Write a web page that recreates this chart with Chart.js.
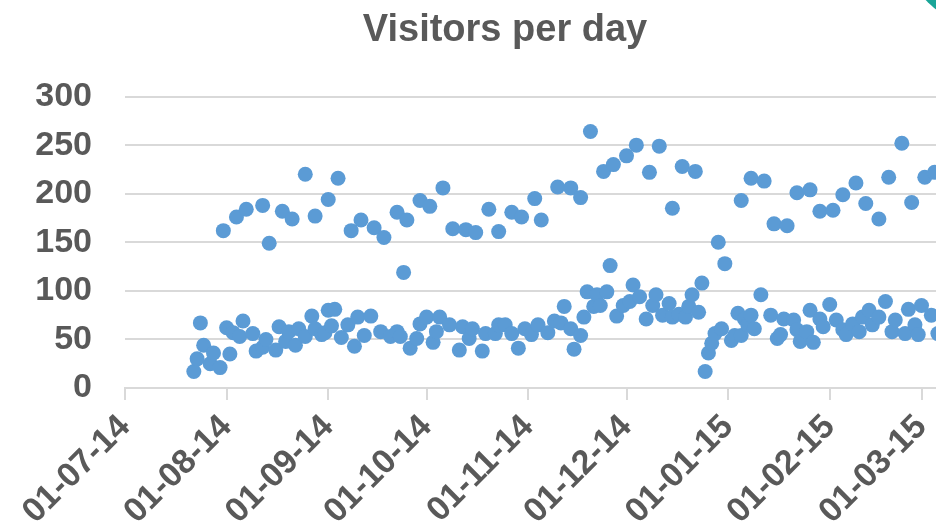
<!DOCTYPE html>
<html>
<head>
<meta charset="utf-8">
<script src="https://cdn.jsdelivr.net/npm/chart.js@4.4.1/dist/chart.umd.min.js"></script>
<style>
    html, body { margin: 0; padding: 0; background: #ffffff; overflow: hidden; width: 936px; height: 532px; }
    #wrap { position: relative; width: 1020px; height: 532px; }
    #corner-shape { position: absolute; left: 902px; top: -148px; width: 176px; height: 176px; border-radius: 50%; background: #19a598; }
</style>
</head>
<body>
<div id="wrap">
    <canvas id="visitors-chart" width="1020" height="532"></canvas>
</div>
<div id="corner-shape"></div>
<script>
// data: day offsets counted from 01-07-14, visitors
var dayOffsets = [
    21, 22, 23, 24, 26, 27, 29, 30, 31, 32, 33, 34, 35, 36, 37, 39, 40, 42, 42, 43,
    44, 46, 47, 48, 49, 50, 51, 52, 53, 55, 55, 57, 58, 58, 60, 61, 62, 62, 63, 64,
    65, 66, 68, 69, 70, 71, 72, 73, 75, 76, 78, 79, 81, 83, 83, 84, 85, 86, 87, 89,
    90, 90, 92, 93, 94, 95, 96, 97, 99, 100, 102, 103, 104, 105, 106, 107, 109, 110, 111, 113,
    114, 114, 116, 118, 118, 120, 121, 122, 124, 125, 126, 127, 129, 131, 132, 133, 134, 136, 136, 137,
    139, 139, 140, 141, 142, 143, 144, 145, 146, 147, 148, 149, 150, 152, 153, 154, 155, 156, 157, 159,
    160, 161, 162, 163, 164, 166, 167, 167, 169, 170, 171, 172, 173, 174, 175, 176, 177, 178, 179, 180,
    181, 182, 183, 185, 186, 187, 188, 188, 189, 190, 191, 191, 192, 194, 195, 197, 198, 199, 200, 201,
    202, 204, 205, 205, 206, 208, 209, 209, 210, 212, 212, 213, 215, 216, 217, 219, 219, 220, 222, 223,
    224, 225, 226, 227, 228, 230, 230, 232, 233, 234, 235, 237, 238, 239, 240, 241, 242, 243, 244, 246,
    247, 248
];
var visitors = [
    17, 30, 67, 44, 25, 36, 21, 162, 62, 35, 57, 176, 53, 69, 184, 56, 38, 42, 188, 50,
    149, 39, 63, 182, 48, 58, 174, 44, 61, 53, 220, 74, 61, 177, 55, 57, 80, 194, 64, 81,
    216, 52, 65, 162, 43, 73, 173, 54, 74, 165, 58, 155, 53, 58, 181, 53, 119, 173, 41, 51,
    66, 193, 73, 187, 47, 58, 73, 206, 65, 164, 39, 63, 163, 51, 61, 160, 38, 56, 184, 56,
    65, 161, 65, 56, 181, 41, 176, 61, 55, 195, 65, 173, 57, 69, 207, 67, 84, 61, 206, 40,
    54, 196, 73, 99, 264, 84, 96, 85, 223, 99, 126, 230, 74, 85, 239, 89, 106, 250, 94, 71,
    222, 85, 96, 249, 75, 87, 73, 185, 76, 228, 73, 84, 96, 223, 78, 108, 17, 36, 46, 56,
    150, 61, 128, 49, 54, 77, 54, 193, 71, 65, 75, 216, 61, 96, 213, 75, 169, 51, 55, 71,
    167, 70, 60, 201, 48, 58, 80, 204, 47, 71, 182, 63, 86, 183, 70, 60, 199, 55, 66, 211,
    58, 73, 190, 80, 65, 73, 174, 89, 217, 58, 70, 252, 56, 81, 191, 65, 55, 85, 217, 75,
    222, 56
];

// month ticks on the date axis
var tickDays = [0, 31, 62, 92, 123, 153, 184, 215, 243];
var tickLabels = ['01-07-14', '01-08-14', '01-09-14', '01-10-14', '01-11-14', '01-12-14', '01-01-15', '01-02-15', '01-03-15'];
var yTicks = [0, 50, 100, 150, 200, 250, 300];

var textColor = '#595959';
var lineColor = '#d9d9d9';
var fontName = "'Liberation Sans', Arial, sans-serif";

function BuildPoints() {
    var pts = [];
    for (var i = 0; i < dayOffsets.length; i++) {
        pts.push({ x: dayOffsets[i], y: visitors[i] });
    }
    return pts;
}

function BuildVisitorsChart() {
    var ctx = document.getElementById('visitors-chart');

    return new Chart(ctx, {
        type: 'scatter',
        data: {
            datasets: [{
                label: 'Visitors',
                data: BuildPoints(),
                backgroundColor: '#5b9bd5',
                borderColor: '#5b9bd5',
                borderWidth: 0,
                pointRadius: 7.5,
                pointHoverRadius: 7.5
            }]
        },
        options: {
            responsive: false,
            animation: false,
            layout: { padding: { left: 0, right: 10, top: 0, bottom: 0 } },
            plugins: {
                legend: { display: false },
                tooltip: { enabled: false },
                title: {
                    display: true,
                    text: 'Visitors per day',
                    color: textColor,
                    font: { family: fontName, size: 38, weight: 'bold' },
                    padding: { top: 8, bottom: 43 }
                }
            },
            scales: {
                x: {
                    type: 'linear',
                    min: 0,
                    max: 270,
                    afterBuildTicks: function (scale) {
                        scale.ticks = tickDays.map(function (d) { return { value: d }; });
                    },
                    afterFit: function (scale) { scale.height = 144; },
                    border: { display: true, color: lineColor, width: 2 },
                    grid: { drawOnChartArea: false, drawTicks: true, tickLength: 12, color: lineColor, lineWidth: 2 },
                    ticks: {
                        autoSkip: false,
                        minRotation: 45,
                        maxRotation: 45,
                        padding: 7,
                        color: textColor,
                        font: { family: fontName, size: 34, weight: 'bold' },
                        callback: function (value, index) { return tickLabels[index]; }
                    }
                },
                y: {
                    min: 0,
                    max: 300,
                    afterBuildTicks: function (scale) {
                        scale.ticks = yTicks.map(function (v) { return { value: v }; });
                    },
                    afterFit: function (scale) { scale.width = 125; },
                    border: { display: false },
                    grid: { drawTicks: false, color: lineColor, lineWidth: 2 },
                    ticks: {
                        padding: 33,
                        color: textColor,
                        font: { family: fontName, size: 34, weight: 'bold' }
                    }
                }
            }
        }
    });
}

// starting scripts
BuildVisitorsChart();
</script>
</body>
</html>
